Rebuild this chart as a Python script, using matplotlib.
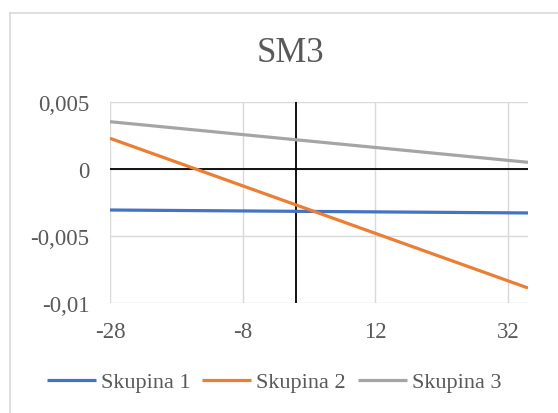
import matplotlib
matplotlib.use("Agg")
import matplotlib.pyplot as plt
from matplotlib.lines import Line2D

plt.rcParams.update({
    "font.family": "Liberation Serif",
    "axes.unicode_minus": False,
})

# series end points (straight trend lines)
x_vals = [-28, 35]
skupina_1 = [-0.00306, -0.00328]
skupina_2 = [0.00229, -0.00888]
skupina_3 = [0.00353, 0.00050]

series_names = ["Skupina 1", "Skupina 2", "Skupina 3"]
series_colors = ["#4472C4", "#ED7D31", "#A5A5A5"]

x_ticks = [-28, -8, 12, 32]
y_ticks = [-0.01, -0.005, 0, 0.005]
y_tick_labels = ["-0,01", "-0,005", "0", "0,005"]

text_color = "#595959"
grid_color = "#D9D9D9"

fig = plt.figure(figsize=(5.58, 4.14), dpi=100)

# chart area border (top and left edges)
fig.add_artist(Line2D([10 / 558, 1.0], [1 - 14 / 414, 1 - 14 / 414],
                      transform=fig.transFigure, color=grid_color, lw=1.2))
fig.add_artist(Line2D([10 / 558, 10 / 558], [0.0, 1 - 14 / 414],
                      transform=fig.transFigure, color=grid_color, lw=1.2))

ax = fig.add_axes([110 / 558, 1 - 304 / 414, 418 / 558, 201 / 414])

for ys, name, col in zip([skupina_1, skupina_2, skupina_3], series_names, series_colors):
    ax.plot(x_vals, ys, color=col, lw=2.3, label=name, zorder=3,
            solid_capstyle="butt")

ax.axhline(0, color="black", lw=1.3, zorder=2)
ax.axvline(0, color="black", lw=1.3, zorder=2)

ax.set_xlim(-28, 35)
ax.set_ylim(-0.01, 0.005)
ax.set_xticks(x_ticks)
ax.set_xticklabels([str(t) for t in x_ticks])
ax.set_yticks(y_ticks)
ax.set_yticklabels(y_tick_labels)

ax.grid(True, color=grid_color, lw=1.0, zorder=1)
for s in ax.spines.values():
    s.set_visible(False)
ax.tick_params(length=0, labelsize=16.5, colors=text_color)
ax.tick_params(axis="y", pad=15)
ax.tick_params(axis="x", pad=13)

fig.text(290 / 558, 1 - 53 / 414, "SM3", ha="center", va="center",
         fontsize=25, color=text_color)

fig.legend(loc="center", bbox_to_anchor=(274 / 558, 1 - 383 / 414), ncol=3,
           frameon=False, fontsize=16, labelcolor=text_color,
           handlelength=2.2, handletextpad=0.22, columnspacing=0.55)

fig.savefig("out.png", dpi=100)
